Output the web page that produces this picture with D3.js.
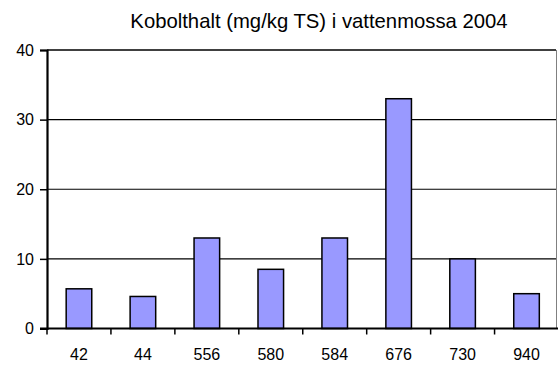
<!DOCTYPE html>
<html>
<head>
<meta charset="utf-8">
<script src="https://cdn.jsdelivr.net/npm/d3@7"></script>
<style>
  html, body { margin: 0; padding: 0; background: #fff; }
  svg { display: block; font-family: "Liberation Sans", Arial, sans-serif; }
</style>
</head>
<body>
<svg id="chart" width="558" height="365"></svg>
<script>
// Cobalt content in aquatic moss per sampling station
const stations = ["42", "44", "556", "580", "584", "676", "730", "940"];
const cobalt = [5.7, 4.6, 13, 8.5, 13, 33, 10, 5];
const yTicks = [0, 10, 20, 30, 40];
const title = "Kobolthalt (mg/kg TS) i vattenmossa 2004";

const svg = d3.select("#chart");
const W = 558, H = 365;
const m = { left: 47, right: 1, top: 50, bottom: 36.5 };

// one band per station; bars take 40% of a band
const xb = d3.scaleBand().domain(stations).range([m.left, W - m.right + 1.5]);
const barW = xb.bandwidth() * 0.4;

const y = d3.scaleLinear().domain([0, 40]).range([H - m.bottom, m.top]);

// horizontal gridlines
svg.append("g")
  .selectAll("line")
  .data(yTicks.filter(d => d > 0))
  .join("line")
  .attr("x1", m.left).attr("x2", W - 2)
  .attr("y1", d => y(d)).attr("y2", d => y(d))
  .attr("stroke", "#000")
  .attr("stroke-width", d => d === 40 ? 1.6 : 1.2);

// plot area right edge
svg.append("line")
  .attr("x1", W - 1.5).attr("x2", W - 1.5)
  .attr("y1", y(40)).attr("y2", y(0))
  .attr("stroke", "#808080").attr("stroke-width", 1);

// bars
svg.append("g")
  .selectAll("rect")
  .data(stations)
  .join("rect")
  .attr("x", d => xb(d) + xb.bandwidth() / 2 - barW / 2)
  .attr("width", barW)
  .attr("y", (d, i) => y(cobalt[i]))
  .attr("height", (d, i) => y(0) - y(cobalt[i]))
  .attr("fill", "#9999ff")
  .attr("stroke", "#000")
  .attr("stroke-width", 1.5);

// y axis
const yAxis = d3.axisLeft(y).tickValues(yTicks).tickSize(7).tickPadding(6);
const gy = svg.append("g").attr("transform", `translate(${m.left},0)`).call(yAxis);
gy.select(".domain").attr("stroke", "#000").attr("stroke-width", 2.2);
gy.selectAll(".tick line").attr("stroke", "#000").attr("stroke-width", 1.5);
gy.selectAll(".tick text").attr("font-size", 16).attr("fill", "#000")
  .attr("font-family", "Liberation Sans, Arial, sans-serif");

// x axis: ticks on category boundaries, labels centred in each band
const gx = svg.append("g").attr("transform", `translate(0,${y(0)})`);
gx.append("line")
  .attr("x1", m.left - 7).attr("x2", W)
  .attr("stroke", "#000").attr("stroke-width", 2.2);
gx.selectAll("line.tk")
  .data(stations)
  .join("line")
  .attr("class", "tk")
  .attr("x1", d => xb(d)).attr("x2", d => xb(d))
  .attr("y1", 0).attr("y2", 6)
  .attr("stroke", "#000").attr("stroke-width", 1.5);
gx.selectAll("text")
  .data(stations)
  .join("text")
  .attr("x", d => xb(d) + xb.bandwidth() / 2)
  .attr("y", 31)
  .attr("text-anchor", "middle")
  .attr("font-size", 16)
  .attr("fill", "#000")
  .text(d => d);

// title
svg.append("text")
  .attr("x", 319)
  .attr("y", 27.5)
  .attr("text-anchor", "middle")
  .attr("font-size", 20.3)
  .attr("fill", "#000")
  .text(title);
</script>
</body>
</html>
